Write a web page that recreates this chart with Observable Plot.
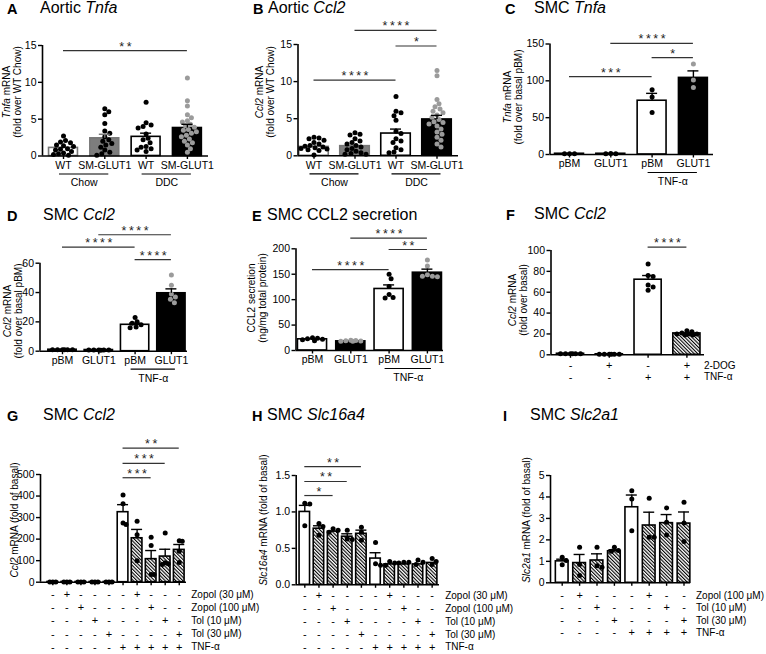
<!DOCTYPE html>
<html><head><meta charset="utf-8">
<script src="https://cdn.jsdelivr.net/npm/d3@7"></script>
<script src="https://cdn.jsdelivr.net/npm/@observablehq/plot@0.6"></script>
<style>
html,body{margin:0;padding:0;background:#fff;}
#fig{position:relative;width:766px;height:654px;overflow:hidden;font-family:'Liberation Sans',Arial,Helvetica,sans-serif;color:#000;background:#fff;}
.panel{position:absolute;}
.ttl{position:absolute;font-size:16px;line-height:16px;white-space:nowrap;}
.ltr{font-weight:bold;font-size:14.5px;}
.ylab{position:absolute;font-size:10px;line-height:11px;white-space:nowrap;text-align:center;transform:translate(-50%,-50%) rotate(-90deg);}
</style></head><body>
<svg width="0" height="0" style="position:absolute">
  <defs>
    <pattern id="hatch" patternUnits="userSpaceOnUse" width="2.5" height="2.5" patternTransform="rotate(-45)">
      <rect width="2.5" height="2.5" fill="#fff"></rect>
      <rect width="1.1" height="2.5" fill="#000"></rect>
    </pattern>
  </defs>
</svg>
<div id="fig"></div>
<script>
// ---------------- DATA ----------------
// A: Aortic Tnfa
const aLabels = ["WT", "SM-GLUT1", "WT", "SM-GLUT1"];
const aGroups = [{label: "Chow", first: 0, last: 1}, {label: "DDC", first: 2, last: 3}];
const aMean = [1.1, 2.4, 2.6, 3.8];
const aSem = [0.2, 0.55, 0.5, 0.5];
const aPoints = [
  [2.7, 2.1, 1.9, 1.8, 1.5, 1.4, 1.3, 1.0, 0.9, 0.8, 0.6, 0.4, 0.3, 0.2, 0.1],
  [6.4, 6.0, 5.6, 4.4, 3.4, 3.1, 2.6, 2.2, 2.0, 1.7, 1.5, 1.2, 0.8, 0.5, 0.3, 0.1],
  [7.3, 4.5, 4.2, 4.0, 3.8, 3.0, 2.4, 2.2, 1.8, 1.3, 1.2, 1.0, 0.8, 0.6],
  [10.6, 7.5, 6.8, 5.6, 5.2, 4.8, 4.6, 4.3, 4.1, 3.9, 3.6, 3.5, 3.3, 3.1, 2.8, 2.6, 2.3, 2.0, 1.8, 1.5, 1.0, 0.5]
];
const aSig = [{from: 0, to: 3, level: 14.3, stars: "**"}];

// B: Aortic Ccl2
const bLabels = ["WT", "SM-GLUT1", "WT", "SM-GLUT1"];
const bGroups = [{label: "Chow", first: 0, last: 1}, {label: "DDC", first: 2, last: 3}];
const bMean = [1.2, 1.3, 3.0, 4.9];
const bSem = [0.2, 0.2, 0.6, 0.55];
const bPoints = [
  [2.5, 2.4, 2.3, 2.1, 1.8, 1.6, 1.4, 1.3, 1.2, 1.1, 1.0, 0.9, 0.8, 0.7, 0.1],
  [3.1, 2.9, 2.8, 2.3, 2.0, 1.8, 1.6, 1.4, 1.2, 1.0, 0.8, 0.6, 0.4, 0.3, 0.2, 0.2],
  [8.0, 6.0, 5.8, 5.4, 4.8, 3.3, 3.0, 2.3, 2.0, 1.8, 1.1, 0.8, 0.5, 0.4],
  [11.5, 10.8, 7.6, 7.0, 6.6, 6.3, 6.0, 5.8, 5.5, 5.2, 4.9, 4.6, 4.5, 4.3, 4.0, 3.6, 3.2, 2.9, 2.5, 2.1, 1.6, 1.2]
];
const bSig = [
  {from: 0, to: 2, level: 10.2, stars: "****"},
  {from: 1, to: 3, level: 16.9, stars: "****"},
  {from: 2, to: 3, level: 14.8, stars: "*"}
];

// C: SMC Tnfa
const cLabels = ["pBM", "GLUT1", "pBM", "GLUT1"];
const cGroups = [{label: "TNF-α", first: 2, last: 3}];
const cMean = [1, 1, 73, 104];
const cSem = [0.3, 0.3, 10, 9.5];
const cPoints = [[1, 1, 1], [1.5, 1, 1], [88, 78, 57], [123, 101, 91]];
const cSig = [
  {from: 0, to: 2, level: 105.7, stars: "***"},
  {from: 1, to: 3, level: 150.8, stars: "****"},
  {from: 2, to: 3, level: 131.4, stars: "*"}
];

// D: SMC Ccl2
const dLabels = ["pBM", "GLUT1", "pBM", "GLUT1"];
const dGroups = [{label: "TNF-α", first: 2, last: 3}];
const dMean = [1, 0.8, 18, 39.5];
const dSem = [0.1, 0.1, 1.1, 3];
const dPoints = [[1, 1, 1, 1, 1, 1], [0.9, 0.8, 0.8, 0.7, 0.8, 0.9], [23, 20, 19, 18, 16.5, 16], [52, 45, 39, 37, 35.5, 33]];
const dSig = [
  {from: 1, to: 3, level: 79.4, stars: "****"},
  {from: 0, to: 2, level: 70.9, stars: "****"},
  {from: 2, to: 3, level: 62.5, stars: "****"}
];

// E: SMC CCL2 secretion
const eLabels = ["pBM", "GLUT1", "pBM", "GLUT1"];
const eGroups = [{label: "TNF-α", first: 2, last: 3}];
const eMean = [22, 18, 121, 153];
const eSem = [1, 0.5, 8, 7];
const ePoints = [[25, 24, 23, 22, 21, 19], [20, 19.5, 19, 18.5, 18, 18], [150, 141, 126, 110, 104, 103], [178, 166, 149, 146, 145, 146]];
const eSig = [
  {from: 0, to: 2, level: 159, stars: "****"},
  {from: 1, to: 3, level: 221, stars: "****"},
  {from: 2, to: 3, level: 198.6, stars: "**"}
];

// F: SMC Ccl2 with 2-DOG
const fRows = [["2-DOG", "-+-+"], ["TNF-α", "--++"]];
const fMean = [1, 0.5, 72, 20.5];
const fSem = [0.1, 0.1, 4, 0.7];
const fPoints = [[1, 1, 1, 1, 1, 1], [0.5, 0.5, 0.5, 0.5, 0.5, 0.5], [87, 76, 75, 67, 62, 65], [23, 22, 21, 20, 20, 19, 19, 20]];
const fSig = [{from: 2, to: 3, level: 103.2, stars: "****"}];

// G: SMC Ccl2 with zopolrestat / tolrestat
const gRows = [
  ["Zopol (30 μM)", "-+----+---"],
  ["Zopol (100 μM)", "--+----+--"],
  ["Tol (10 μM)", "---+----+-"],
  ["Tol (30 μM)", "----+----+"],
  ["TNF-α", "-----+++++"]
];
const gMean = [1, 1, 1, 1, 1, 325, 204, 107, 119, 150];
const gSem = [0.1, 0.1, 0.1, 0.1, 0.1, 35, 41, 40, 34, 25];
const gPoints = [[1, 1, 1], [1, 1, 1], [1, 1, 1], [1, 1, 1], [1, 1, 1],
  [405, 364, 275, 268], [283, 220, 100], [209, 170, 36, 36], [228, 90, 86, 82], [193, 190, 144, 91]];
const gSig = [
  {from: 5, to: 9, level: 622, stars: "**"},
  {from: 5, to: 8, level: 552, stars: "***"},
  {from: 5, to: 7, level: 485, stars: "***"}
];

// H: SMC Slc16a4
const hRows = gRows;
const hMean = [1.0, 0.77, 0.73, 0.66, 0.70, 0.36, 0.28, 0.28, 0.28, 0.30];
const hSem = [0.09, 0.04, 0.02, 0.04, 0.05, 0.08, 0.01, 0.01, 0.01, 0.02];
const hPoints = [[1.12, 1.11, 0.81], [0.84, 0.80, 0.68], [0.77, 0.75, 0.72], [0.75, 0.63, 0.62], [0.79, 0.72, 0.61],
  [0.58, 0.29, 0.27], [0.32, 0.30, 0.27], [0.31, 0.31, 0.30], [0.34, 0.31, 0.28], [0.36, 0.32, 0.28]];
const hSig = [
  {from: 0, to: 4, level: 1.623, stars: "**"},
  {from: 0, to: 3, level: 1.418, stars: "**"},
  {from: 0, to: 2, level: 1.225, stars: "*"}
];

// I: SMC Slc2a1
const iRows = [
  ["Zopol (100 μM)", "-+---+--"],
  ["Tol (10 μM)", "--+---+-"],
  ["Tol (30 μM)", "---+---+"],
  ["TNF-α", "----++++"]
];
const iMean = [1.0, 0.92, 1.04, 1.47, 3.52, 2.67, 2.78, 2.76];
const iSem = [0.1, 0.4, 0.31, 0.07, 0.57, 0.62, 0.4, 0.54];
const iPoints = [[1.19, 1.04, 0.84], [1.66, 0.85, 0.34], [1.66, 0.80, 0.73], [1.66, 1.5, 1.47],
  [4.29, 3.9, 2.43], [3.94, 2.12, 2.12], [3.49, 2.82, 2.23], [3.75, 2.79, 1.92]];

// ---------------- STYLE / LAYOUT ----------------
const FILL = {w: "#fff", k: "#000", g: "#7d7d7d", h: "url(#hatch)"};
const GRAY = "#9b9b9b";
const R = 2.5;
const FONT = "'Liberation Sans', Arial, Helvetica, sans-serif";

function dodge(vals, center, yPx, s, maxOff) {
  const order = d3.range(vals.length).sort((a, b) => vals[b] - vals[a]);
  const cands = [0];
  for (let k = 1; k <= Math.floor(maxOff); k++) cands.push(k, -k);
  const placed = [];
  const out = new Array(vals.length);
  for (const j of order) {
    const py = vals[j] * yPx;
    let best = 0, bestD = -1;
    for (const c of cands) {
      let dmin = Infinity;
      for (const p of placed) dmin = Math.min(dmin, Math.hypot(p.x - c, p.y - py));
      if (dmin >= 2 * R * 0.95) { best = c; bestD = Infinity; break; }
      if (dmin > bestD) { bestD = dmin; best = c; }
    }
    placed.push({x: best, y: py});
    out[j] = center + best / s;
  }
  return out;
}

function makePanel(p) {
  const n = p.mean.length;
  const idx = d3.range(n);
  const yMax = p.yTicks[p.yTicks.length - 1];
  const {box, frame} = p;
  const yPx = (frame.bottom - frame.top) / yMax;
  const xDom = [(frame.left - p.c0) / p.s, (frame.right - p.c0) / p.s];
  const hw = p.barW / 2;
  const cap = 5.5 / p.s;
  const bars = idx.map(i => ({
    i, x1: i - hw, x2: i + hw, v: p.mean[i], top: p.mean[i] + p.sem[i],
    fill: FILL[p.fill[i]], stroke: p.stroke ? p.stroke[i] : "#000"
  }));
  const errs = bars.filter(b => (b.top - b.v) * yPx > 1.5);
  const dots = [];
  p.points.forEach((vals, i) => {
    const xs = dodge(vals, i, yPx, p.s, p.spread * p.s);
    vals.forEach((v, j) => dots.push({x: xs[j], v, c: p.dot[i]}));
  });
  const marks = [
    Plot.rect(bars, {x1: "x1", x2: "x2", y1: 0, y2: "v", fill: "fill", stroke: "stroke", strokeWidth: 1.6}),
    Plot.dot(dots, {x: "x", y: "v", r: R, fill: "c"}),
    Plot.ruleX(errs, {x: "i", y1: "v", y2: "top", stroke: "stroke", strokeWidth: 1.4}),
    Plot.ruleY(errs, {x1: d => d.i - cap, x2: d => d.i + cap, y: "top", stroke: "stroke", strokeWidth: 1.4}),
    Plot.ruleY([0], {strokeWidth: 1.6}),
    Plot.ruleX([xDom[0]], {y1: 0, y2: yMax, strokeWidth: 1.6}),
    Plot.axisY({ticks: p.yTicks, tickFormat: p.yFormat || (d => String(d)), tickSize: 4, tickPadding: 2,
      strokeWidth: 1.4, fontSize: 10.5, label: null}),
    Plot.axisX({ticks: idx, tickFormat: p.xLabels ? (i => p.xLabels[i]) : (() => ""), tickSize: 3.5,
      tickPadding: 2, strokeWidth: 1.4, fontSize: 10.5, label: null})
  ];
  if (p.sig) {
    marks.push(Plot.ruleY(p.sig, {x1: "from", x2: "to", y: "level", stroke: "#333", strokeWidth: 1.2}));
    marks.push(Plot.text(p.sig, {x: d => (d.from + d.to) / 2, y: "level", text: d => d.stars.split("").join("\u2009"),
      lineAnchor: "bottom", dy: 0, fontSize: 12.5, fill: "#222"}));
  }
  if (p.groups) {
    const e1 = 4 / p.s, e2 = 4 / p.s;
    marks.push(Plot.ruleY(p.groups, {x1: d => d.first - e1, x2: d => d.last + e2, y: () => 0, dy: 18, strokeWidth: 1.2}));
    marks.push(Plot.text(p.groups, {x: d => (d.first + d.last) / 2, y: () => 0, dy: 27, text: "label", fontSize: 10.5, fill: "#000"}));
  }
  if (p.rows) {
    p.rows.forEach(([name, signs], k) => {
      const dy = p.rowFirst + k * p.rowStep;
      const cells = signs.split("").map((t, i) => ({i, t}));
      marks.push(Plot.text(cells, {x: "i", y: () => 0, dy, text: "t", fontSize: 11, fill: "#000"}));
      marks.push(Plot.text([name], {x: () => n - 1, y: () => 0, dx: p.rowDx, dy, text: d => d, textAnchor: "start", fontSize: 10, fill: "#000"}));
    });
  }
  const chart = Plot.plot({
    width: box.w, height: box.h,
    marginLeft: frame.left - box.x,
    marginRight: box.x + box.w - frame.right,
    marginTop: frame.top - box.y,
    marginBottom: box.y + box.h - frame.bottom,
    x: {type: "linear", domain: xDom, label: null},
    y: {type: "linear", domain: [0, yMax], label: null},
    color: {type: "identity"},
    style: {fontFamily: FONT, fontSize: "10.5px", background: "transparent", overflow: "visible", color: "#000"},
    marks
  });
  const div = document.createElement("div");
  div.className = "panel";
  Object.assign(div.style, {left: box.x + "px", top: box.y + "px", width: box.w + "px", height: box.h + "px"});
  div.appendChild(chart);
  document.getElementById("fig").appendChild(div);
}

const panels = [
  {box: {x: 0, y: 0, w: 255, h: 195}, frame: {left: 42, right: 208, top: 45, bottom: 155.5}, c0: 63, s: 41.3,
   yTicks: [0, 5, 10, 15], mean: aMean, sem: aSem, points: aPoints, fill: ["w", "g", "w", "k"],
   stroke: ["#777", "#777", "#000", "#000"], dot: ["#000", "#000", "#000", GRAY], barW: 0.7, spread: 0.32,
   sig: aSig, xLabels: aLabels, groups: aGroups},
  {box: {x: 255, y: 0, w: 255, h: 195}, frame: {left: 297.5, right: 458, top: 44, bottom: 155.3}, c0: 313.5, s: 41,
   yTicks: [0, 5, 10, 15], mean: bMean, sem: bSem, points: bPoints, fill: ["w", "g", "w", "k"],
   stroke: ["#777", "#777", "#000", "#000"], dot: ["#000", "#000", "#000", GRAY], barW: 0.72, spread: 0.32,
   sig: bSig, xLabels: bLabels, groups: bGroups},
  {box: {x: 510, y: 0, w: 256, h: 195}, frame: {left: 549.5, right: 713, top: 43.5, bottom: 154}, c0: 569, s: 41.3,
   yTicks: [0, 50, 100, 150], mean: cMean, sem: cSem, points: cPoints, fill: ["w", "k", "w", "k"],
   dot: ["#000", "#000", "#000", GRAY], barW: 0.7, spread: 0.3, sig: cSig, xLabels: cLabels, groups: cGroups},
  {box: {x: 0, y: 195, w: 255, h: 200}, frame: {left: 39.5, right: 187, top: 262.7, bottom: 350.7}, c0: 62, s: 36.3,
   yTicks: [0, 20, 40, 60], mean: dMean, sem: dSem, points: dPoints, fill: ["w", "k", "w", "k"],
   dot: ["#000", "#000", "#000", GRAY], barW: 0.78, spread: 0.35, sig: dSig, xLabels: dLabels, groups: dGroups},
  {box: {x: 255, y: 195, w: 255, h: 200}, frame: {left: 295.5, right: 443, top: 248.3, bottom: 350}, c0: 312, s: 38.3,
   yTicks: [0, 50, 100, 150, 200], mean: eMean, sem: eSem, points: ePoints, fill: ["w", "k", "w", "k"],
   dot: ["#000", GRAY, "#000", GRAY], barW: 0.76, spread: 0.33, sig: eSig, xLabels: eLabels, groups: eGroups},
  {box: {x: 510, y: 195, w: 256, h: 200}, frame: {left: 550.5, right: 704, top: 250, bottom: 354.3}, c0: 570, s: 38.8,
   yTicks: [0, 20, 40, 60, 80, 100], mean: fMean, sem: fSem, points: fPoints, fill: ["w", "h", "w", "h"],
   dot: ["#000", "#000", "#000", "#000"], barW: 0.7, spread: 0.33, sig: fSig,
   rows: fRows, rowFirst: 10.7, rowStep: 11.7, rowDx: 17},
  {box: {x: 0, y: 395, w: 255, h: 259}, frame: {left: 40, right: 186, top: 474, bottom: 581.7}, c0: 52.3, s: 14.05,
   yTicks: [0, 100, 200, 300, 400, 500], mean: gMean, sem: gSem, points: gPoints,
   fill: ["w", "h", "h", "h", "h", "w", "h", "h", "h", "h"], dot: gMean.map(() => "#000"), barW: 0.76, spread: 0.25,
   sig: gSig, rows: gRows, rowFirst: 12.5, rowStep: 13.1, rowDx: 12},
  {box: {x: 255, y: 395, w: 255, h: 259}, frame: {left: 295.7, right: 439, top: 475, bottom: 584.3}, c0: 304.3, s: 14.15,
   yTicks: [0, 0.5, 1, 1.5], yFormat: d3.format(".1f"), mean: hMean, sem: hSem, points: hPoints,
   fill: ["w", "h", "h", "h", "h", "w", "h", "h", "h", "h"], dot: hMean.map(() => "#000"), barW: 0.74, spread: 0.36,
   sig: hSig, rows: hRows, rowFirst: 10.8, rowStep: 12.9, rowDx: 13},
  {box: {x: 510, y: 395, w: 256, h: 259}, frame: {left: 550, right: 690, top: 475, bottom: 582.3}, c0: 561.7, s: 17.4,
   yTicks: [0, 1, 2, 3, 4, 5], mean: iMean, sem: iSem, points: iPoints,
   fill: ["w", "h", "h", "h", "w", "h", "h", "h"], dot: iMean.map(() => "#000"), barW: 0.73, spread: 0.32,
   rows: iRows, rowFirst: 12.7, rowStep: 12.4, rowDx: 12}
];
panels.forEach(makePanel);

// ---------------- TEXT (titles, y labels) ----------------
const titles = [
  {l: "A", lx: 7, tx: 40, base: 13, t: "Aortic <i>Tnfa</i>"},
  {l: "B", lx: 253, tx: 268, base: 13, t: "Aortic <i>Ccl2</i>"},
  {l: "C", lx: 505, tx: 534, base: 13, t: "SMC <i>Tnfa</i>"},
  {l: "D", lx: 7, tx: 43, base: 220, t: "SMC <i>Ccl2</i>"},
  {l: "E", lx: 252, tx: 267, base: 220, t: "SMC CCL2 secretion"},
  {l: "F", lx: 506, tx: 534, base: 219, t: "SMC <i>Ccl2</i>"},
  {l: "G", lx: 7, tx: 43, base: 420.5, t: "SMC <i>Ccl2</i>"},
  {l: "H", lx: 252, tx: 267, base: 420.5, t: "SMC <i>Slc16a4</i>"},
  {l: "I", lx: 503, tx: 530, base: 420.5, t: "SMC <i>Slc2a1</i>"}
];
const ylabels = [
  {x: 11.5, y: 92, t: "<i>Tnfa</i> mRNA<br>(fold over WT Chow)"},
  {x: 265, y: 92, t: "<i>Ccl2</i> mRNA<br>(fold over WT Chow)"},
  {x: 512.5, y: 97, t: "<i>Tnfa</i> mRNA<br>(fold over basal pBM)"},
  {x: 13, y: 311, t: "<i>Ccl2</i> mRNA<br>(fold over basal pBM)"},
  {x: 256.5, y: 298, t: "CCL2 secretion<br>(ng/mg total protein)"},
  {x: 518, y: 300, t: "<i>Ccl2</i> mRNA<br>(fold over basal)"},
  {x: 14, y: 520, t: "<i>Ccl2</i> mRNA (fold of basal)"},
  {x: 263, y: 520, t: "<i>Slc16a4</i> mRNA (fold of basal)"},
  {x: 526, y: 520, t: "<i>Slc2a1</i> mRNA (fold of basal)"}
];
const fig = document.getElementById("fig");
titles.forEach(d => {
  const a = document.createElement("div");
  a.className = "ttl ltr"; a.textContent = d.l;
  Object.assign(a.style, {left: d.lx + "px", top: (d.base - 12.5) + "px"});
  fig.appendChild(a);
  const b = document.createElement("div");
  b.className = "ttl"; b.innerHTML = d.t;
  Object.assign(b.style, {left: d.tx + "px", top: (d.base - 13.5) + "px"});
  fig.appendChild(b);
});
ylabels.forEach(d => {
  const e = document.createElement("div");
  e.className = "ylab"; e.innerHTML = d.t;
  Object.assign(e.style, {left: d.x + "px", top: d.y + "px"});
  fig.appendChild(e);
});
</script>
</body></html>
